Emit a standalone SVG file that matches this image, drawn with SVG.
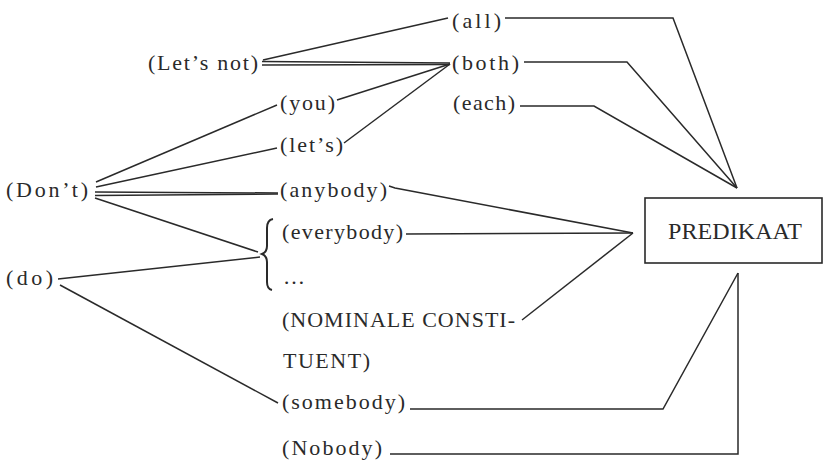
<svg xmlns="http://www.w3.org/2000/svg" width="826" height="462" viewBox="0 0 826 462">
<style>
  .t { font-family: "Liberation Serif", "Times New Roman", serif; font-size: 22px; fill: #2a2a2a; }
  .p { font-family: "Liberation Serif", "Times New Roman", serif; font-size: 24px; fill: #2a2a2a; }
  .c { fill: none; stroke: #2a2a2a; stroke-width: 1.5; stroke-linejoin: miter; }
  .box { fill: #ffffff; stroke: #2a2a2a; stroke-width: 1.6; }
  .br { fill: none; stroke: #2a2a2a; stroke-width: 2; }
</style>
<rect x="0" y="0" width="826" height="462" fill="#ffffff"/>

<g id="connectors">
  <!-- Let's not -->
  <path class="c" d="M263 60 L448 18"/>
  <path class="c" d="M262 61.5 L450 63"/>
  <path class="c" d="M262 65 L450 64.5"/>
  <!-- you, let's to both -->
  <path class="c" d="M337 100 L450 64"/>
  <path class="c" d="M344 143 L450 64"/>
  <!-- Don't -->
  <path class="c" d="M96 182 L277 105"/>
  <path class="c" d="M96 187 L277 148"/>
  <path class="c" d="M95 192 L278 193"/>
  <path class="c" d="M95 195.5 L278 194"/>
  <path class="c" d="M95 198 L258 252"/>
  <!-- do -->
  <path class="c" d="M58 279 L260 257"/>
  <path class="c" d="M60 285 L278 403"/>
  <!-- to top apex -->
  <path class="c" d="M505 18 L673 18 L737 188"/>
  <path class="c" d="M524 62 L627 62 L737 188"/>
  <path class="c" d="M520 106 L594 106 L737 188"/>
  <!-- to left of box -->
  <path class="c" d="M389 186 Q392 187 395 188 L633 233"/>
  <path class="c" d="M406 234 L633 233"/>
  <path class="c" d="M522 320 L633 233"/>
  <!-- to bottom apex -->
  <path class="c" d="M410 409 L663 409 L738 273"/>
  <path class="c" d="M390 454 L738 454 L738 273"/>
</g>

<g id="all"><text class="t" x="452" y="28" textLength="49" lengthAdjust="spacing">(all)</text></g>
<g id="lets-not"><text class="t" x="148" y="70" textLength="110" lengthAdjust="spacing">(Let’s not)</text></g>
<g id="both"><text class="t" x="452" y="70" textLength="67" lengthAdjust="spacing">(both)</text></g>
<g id="each"><text class="t" x="453" y="110" textLength="62" lengthAdjust="spacing">(each)</text></g>
<g id="you"><text class="t" x="280" y="110" textLength="55" lengthAdjust="spacing">(you)</text></g>
<g id="lets"><text class="t" x="280" y="152" textLength="63" lengthAdjust="spacing">(let’s)</text></g>
<g id="dont"><text class="t" x="6" y="197" textLength="82" lengthAdjust="spacing">(Don’t)</text></g>
<g id="anybody"><text class="t" x="280" y="197" textLength="107" lengthAdjust="spacing">(anybody)</text></g>
<g id="brace"><path class="br" d="M273 219 Q267 220 267 228 L267 246 Q267 252 262 254 Q267 256 267 262 L267 282 Q267 289 272 290"/></g>
<g id="everybody"><text class="t" x="282" y="239" textLength="121" lengthAdjust="spacing">(everybody)</text></g>
<g id="ellipsis"><text class="t" x="283" y="284" textLength="20" lengthAdjust="spacing">…</text></g>
<g id="do"><text class="t" x="6" y="285" textLength="47" lengthAdjust="spacing">(do)</text></g>
<g id="nominale">
  <text class="t" x="282" y="327" textLength="233" lengthAdjust="spacing">(NOMINALE CONSTI-</text>
  <text class="t" x="283" y="368" textLength="87" lengthAdjust="spacing">TUENT)</text>
</g>
<g id="somebody"><text class="t" x="282" y="409" textLength="123" lengthAdjust="spacing">(somebody)</text></g>
<g id="nobody"><text class="t" x="282" y="455" textLength="100" lengthAdjust="spacing">(Nobody)</text></g>
<g id="predikaat">
  <rect class="box" x="645" y="198" width="177" height="65"/>
  <text class="p" x="668" y="239" textLength="134" lengthAdjust="spacing">PREDIKAAT</text>
</g>
</svg>
